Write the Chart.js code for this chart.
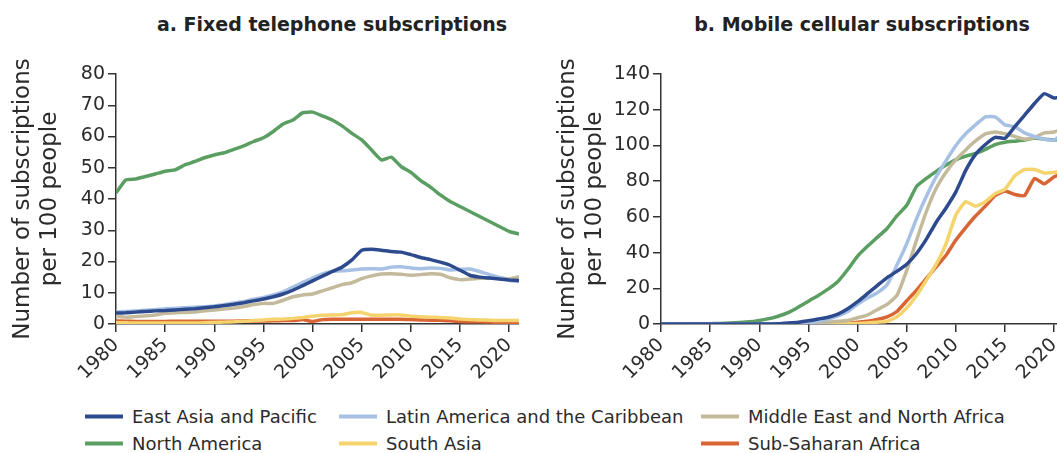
<!DOCTYPE html>
<html>
<head>
<meta charset="utf-8">
<script src="https://cdn.jsdelivr.net/npm/chart.js@4.4.1/dist/chart.umd.min.js"></script>
<style>
  html, body { margin: 0; padding: 0; background: #fff; overflow: hidden; width: 1057px; height: 453px; }
  #wrap { position: relative; width: 1057px; height: 453px; font-family: "DejaVu Sans", sans-serif; color: #2b2b2b; }
  canvas { position: absolute; top: 0; }
  .title { position: absolute; top: 13px; transform: translateX(-50%); font-weight: bold; font-size: 19px; white-space: nowrap; color: #222; }
  .leg { position: absolute; display: flex; align-items: center; font-size: 18px; white-space: nowrap; transform: translateY(-50%); }
  .leg span.sw { display: inline-block; width: 38px; height: 4px; margin-right: 9px; }
</style>
</head>
<body>
<div id="wrap">
  <div class="title" style="left:332px">a. Fixed telephone subscriptions</div>
  <div class="title" style="left:862px">b. Mobile cellular subscriptions</div>
  <canvas id="fixed" width="519" height="400" style="left:0px"></canvas>
  <canvas id="mobile" width="519" height="400" style="left:545px"></canvas>
  <div id="legend"></div>
</div>
<script>
const years = [1980, 1981, 1982, 1983, 1984, 1985, 1986, 1987, 1988, 1989,
               1990, 1991, 1992, 1993, 1994, 1995, 1996, 1997, 1998, 1999,
               2000, 2001, 2002, 2003, 2004, 2005, 2006, 2007, 2008, 2009,
               2010, 2011, 2012, 2013, 2014, 2015, 2016, 2017, 2018, 2019,
               2020, 2021];
const xTicks = [1980, 1985, 1990, 1995, 2000, 2005, 2010, 2015, 2020];

const regions = ['East Asia and Pacific', 'Latin America and the Caribbean', 'Middle East and North Africa',
                 'North America', 'South Asia', 'Sub-Saharan Africa'];
const colors = ['#2e4a8e', '#a6c1e4', '#c3b99b', '#5b9e62', '#f5d46e', '#d96535'];

// a. fixed telephone subscriptions per 100 people
const fixedEastAsia = [3.5, 3.6, 3.8, 4.0, 4.2, 4.3, 4.5, 4.7, 4.9, 5.2,
  5.5, 5.9, 6.3, 6.8, 7.4, 8.0, 8.7, 9.6, 10.8, 12.3,
  13.8, 15.3, 16.8, 18.2, 20.5, 23.6, 23.9, 23.6, 23.2, 23.0,
  22.2, 21.3, 20.6, 19.8, 18.8, 17.2, 15.6, 15.0, 14.7, 14.4,
  14.1, 13.9];
const fixedLatAm = [3.8, 4.0, 4.2, 4.4, 4.6, 4.9, 5.0, 5.2, 5.4, 5.5,
  5.8, 6.2, 6.7, 7.2, 7.9, 8.5, 9.3, 10.3, 11.8, 13.3,
  14.7, 16.0, 16.9, 17.0, 17.3, 17.6, 17.7, 17.6, 18.2, 18.3,
  17.9, 17.7, 17.9, 17.8, 17.3, 17.5, 17.6, 16.8, 15.8, 14.9,
  14.0, 13.6];
const fixedMENA = [2.5, 2.2, 2.4, 2.6, 2.9, 3.4, 3.6, 3.7, 3.8, 4.2,
  4.5, 4.8, 5.1, 5.6, 6.2, 6.6, 6.6, 7.6, 8.7, 9.3,
  9.6, 10.6, 11.6, 12.6, 13.2, 14.5, 15.4, 16.0, 16.1, 15.9,
  15.6, 15.8, 16.1, 15.9, 14.8, 14.2, 14.4, 14.6, 14.8, 14.8,
  14.4, 15.1];
const fixedNorthAm = [41.9, 46.1, 46.4, 47.2, 48.0, 48.9, 49.3, 50.9, 52.0, 53.2,
  54.1, 54.8, 55.9, 57.0, 58.4, 59.6, 61.6, 64.0, 65.3, 67.6,
  67.8, 66.6, 65.3, 63.4, 61.0, 58.9, 55.7, 52.5, 53.4, 50.4,
  48.5, 45.9, 43.8, 41.3, 39.2, 37.6, 36.0, 34.4, 32.8, 31.2,
  29.6, 28.8];
const fixedSouthAsia = [0.4, 0.4, 0.3, 0.3, 0.3, 0.3, 0.3, 0.3, 0.3, 0.4,
  0.5, 0.6, 0.7, 0.9, 1.1, 1.3, 1.5, 1.6, 1.8, 2.1,
  2.5, 2.8, 2.9, 3.0, 3.6, 3.7, 2.8, 2.8, 2.9, 2.9,
  2.5, 2.3, 2.2, 2.1, 1.9, 1.6, 1.4, 1.3, 1.2, 1.1,
  1.1, 1.1];
const fixedSSA = [1.0, 0.9, 0.8, 0.8, 0.8, 0.8, 0.9, 0.9, 0.9, 0.9,
  0.9, 0.9, 0.9, 1.0, 1.0, 1.0, 1.0, 1.1, 1.1, 1.4,
  0.8, 1.4, 1.5, 1.5, 1.5, 1.5, 1.5, 1.5, 1.5, 1.5,
  1.4, 1.3, 1.2, 1.2, 1.0, 0.8, 0.7, 0.7, 0.6, 0.6,
  0.6, 0.6];

// b. mobile cellular subscriptions per 100 people
const mobileEastAsia = [0, 0, 0, 0, 0, 0, 0, 0, 0, 0,
  0, 0, 0.1, 0.5, 1.0, 1.8, 2.8, 3.8, 5.5, 8.5,
  12.5, 17.0, 21.5, 26.0, 29.5, 33.5, 39.5, 47.5, 57.0, 65.0,
  74.0, 86.0, 95.0, 100.5, 104.5, 104.0, 110.5, 117.0, 123.5, 129.0,
  126.5, 128.0];
const mobileLatAm = [0, 0, 0, 0, 0, 0, 0, 0, 0, 0,
  0, 0.1, 0.2, 0.3, 0.5, 0.8, 1.5, 2.8, 4.5, 7.0,
  11.0, 14.5, 17.5, 22.0, 33.0, 45.0, 59.0, 71.5, 82.5, 91.5,
  100.0, 106.5, 111.5, 116.0, 116.0, 111.5, 110.5, 107.0, 105.0, 103.5,
  103.0, 107.0];
const mobileMENA = [0, 0, 0, 0, 0, 0, 0, 0, 0, 0,
  0, 0, 0, 0.1, 0.2, 0.3, 0.5, 1.0, 1.5, 2.0,
  3.5, 5.0, 8.0, 11.0, 16.0, 30.0, 47.0, 63.0, 76.0, 85.0,
  92.0, 97.5, 102.5, 106.5, 107.5, 106.5, 105.0, 103.5, 104.5, 107.0,
  107.5, 110.0];
const mobileNorthAm = [0, 0, 0, 0.1, 0.1, 0.2, 0.3, 0.5, 0.8, 1.2,
  2.0, 3.0, 4.5, 6.5, 9.5, 12.8, 16.0, 19.5, 23.8, 30.5,
  38.0, 43.5, 48.5, 53.5, 60.5, 66.5, 77.0, 81.5, 85.5, 89.0,
  92.0, 94.0, 95.5, 97.8, 100.5, 101.8, 102.4, 103.0, 104.2, 103.5,
  103.0, 104.0];
const mobileSouthAsia = [0, 0, 0, 0, 0, 0, 0, 0, 0, 0,
  0, 0, 0, 0, 0, 0, 0, 0, 0.1, 0.2,
  0.3, 0.6, 1.0, 1.5, 4.0, 9.0, 16.0, 24.5, 33.5, 45.0,
  61.0, 68.5, 66.0, 68.5, 73.0, 75.5, 83.0, 86.5, 86.5, 84.5,
  85.0, 85.5];
const mobileSSA = [0, 0, 0, 0, 0, 0, 0, 0, 0, 0,
  0, 0, 0, 0, 0, 0.1, 0.2, 0.3, 0.4, 0.5,
  1.0, 1.5, 2.5, 4.0, 7.0, 13.0, 19.0, 25.5, 32.0, 38.5,
  47.0, 54.0, 60.5, 66.0, 72.0, 74.5, 72.5, 72.0, 81.5, 78.5,
  82.5, 84.5];

const fixedSeries = [fixedEastAsia, fixedLatAm, fixedMENA, fixedNorthAm, fixedSouthAsia, fixedSSA];
const mobileSeries = [mobileEastAsia, mobileLatAm, mobileMENA, mobileNorthAm, mobileSouthAsia, mobileSSA];

const axisColor = '#333';
const tickFont = { family: 'DejaVu Sans', size: 19 };

function makeChart(id, series, yMax, yStep) {
  const datasets = series.map((vals, i) => ({
    label: regions[i],
    data: vals.map((v, j) => ({ x: years[j], y: v })),
    borderColor: colors[i],
    backgroundColor: colors[i],
    borderWidth: 3.5,
    pointRadius: 0,
    tension: 0.15,
    fill: false
  }));

  return new Chart(document.getElementById(id), {
    type: 'line',
    data: { datasets: datasets },
    options: {
      responsive: false,
      animation: false,
      layout: { padding: { top: 74, left: 0, right: 0, bottom: 0 } },
      plugins: {
        legend: { display: false },
        tooltip: { enabled: false },
        title: { display: false }
      },
      scales: {
        x: {
          type: 'linear',
          min: 1980,
          max: 2021,
          grid: { display: true, drawOnChartArea: false, drawTicks: true, tickLength: 8, color: axisColor, lineWidth: 1.5 },
          border: { display: true, color: axisColor, width: 1.5 },
          ticks: {
            autoSkip: false,
            minRotation: 45,
            maxRotation: 45,
            padding: 2,
            color: '#2b2b2b',
            font: tickFont,
            callback: v => String(v)
          },
          afterBuildTicks: scale => { scale.ticks = xTicks.map(v => ({ value: v })); },
          afterFit: scale => { scale.height = 76; scale.paddingLeft = 0; scale.paddingRight = 0; }
        },
        y: {
          min: 0,
          max: yMax,
          grid: { display: true, drawOnChartArea: false, drawTicks: true, tickLength: 8, color: axisColor, lineWidth: 1.5 },
          border: { display: true, color: axisColor, width: 1.5 },
          ticks: { stepSize: yStep, padding: 3, color: '#2b2b2b', font: tickFont },
          title: {
            display: true,
            text: ['Number of subscriptions', 'per 100 people'],
            color: '#2b2b2b',
            font: { family: 'DejaVu Sans', size: 23, lineHeight: 1.2 },
            padding: { top: 9, bottom: 0 }
          },
          afterFit: scale => { scale.width = 116; }
        }
      }
    }
  });
}

makeChart('fixed', fixedSeries, 80, 10);
makeChart('mobile', mobileSeries, 140, 20);

// shared legend, two rows of three
const legendLeft = [85, 339, 701];
const legendTop = [416, 443];
const legend = document.getElementById('legend');
regions.forEach((name, i) => {
  const item = document.createElement('div');
  item.className = 'leg';
  item.style.left = legendLeft[i % 3] + 'px';
  item.style.top = legendTop[Math.floor(i / 3)] + 'px';
  item.innerHTML = '<span class="sw" style="background:' + colors[i] + '"></span>' + name;
  legend.appendChild(item);
});
</script>
</body>
</html>
